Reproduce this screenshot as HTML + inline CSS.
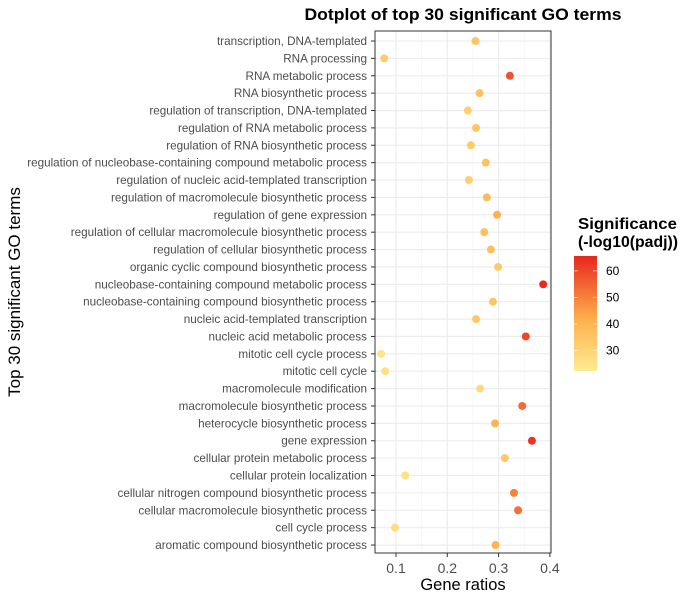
<!DOCTYPE html>
<html><head><meta charset="utf-8"><style>
body{margin:0;background:#fff;}
svg text{font-family:"Liberation Sans",Arial,sans-serif;}
</style></head><body>
<svg id="chart" width="700" height="600" xmlns="http://www.w3.org/2000/svg">
<defs><linearGradient id="cg" x1="0" y1="1" x2="0" y2="0">
<stop offset="0" stop-color="#FFEB91"/><stop offset="0.45" stop-color="#FDB04C"/><stop offset="1" stop-color="#E8271E"/></linearGradient></defs>
<text x="463" y="20" text-anchor="middle" font-size="17" font-weight="bold" fill="#000" textLength="317" lengthAdjust="spacingAndGlyphs">Dotplot of top 30 significant GO terms</text>
<rect x="375" y="31" width="176" height="522" fill="#fff"/>
<g id="grid"></g><g id="dots"></g>
<rect x="375" y="31" width="176" height="522" fill="none" stroke="#333" stroke-width="1"/>
<g id="axes"></g>
<text x="463" y="590" text-anchor="middle" font-size="16.5" fill="#000">Gene ratios</text>
<text transform="translate(20,292) rotate(-90)" text-anchor="middle" font-size="17" fill="#000">Top 30 significant GO terms</text>
<text x="578" y="229" font-size="16" font-weight="bold" fill="#000" textLength="99" lengthAdjust="spacingAndGlyphs">Significance</text>
<text x="578" y="247" font-size="16" font-weight="bold" fill="#000" textLength="100" lengthAdjust="spacingAndGlyphs">(-log10(padj))</text>
<rect x="574" y="256" width="23" height="115" fill="url(#cg)"/>
<g id="legend"></g>
</svg>
<script>
const terms=["transcription, DNA-templated","RNA processing","RNA metabolic process","RNA biosynthetic process","regulation of transcription, DNA-templated","regulation of RNA metabolic process","regulation of RNA biosynthetic process","regulation of nucleobase-containing compound metabolic process","regulation of nucleic acid-templated transcription","regulation of macromolecule biosynthetic process","regulation of gene expression","regulation of cellular macromolecule biosynthetic process","regulation of cellular biosynthetic process","organic cyclic compound biosynthetic process","nucleobase-containing compound metabolic process","nucleobase-containing compound biosynthetic process","nucleic acid-templated transcription","nucleic acid metabolic process","mitotic cell cycle process","mitotic cell cycle","macromolecule modification","macromolecule biosynthetic process","heterocycle biosynthetic process","gene expression","cellular protein metabolic process","cellular protein localization","cellular nitrogen compound biosynthetic process","cellular macromolecule biosynthetic process","cell cycle process","aromatic compound biosynthetic process"];
const ratios=[0.255,0.077,0.322,0.263,0.240,0.256,0.246,0.275,0.242,0.277,0.297,0.272,0.285,0.299,0.387,0.289,0.256,0.353,0.071,0.079,0.264,0.346,0.293,0.365,0.312,0.118,0.330,0.338,0.098,0.294];
const signif=[35,33,58,36,32,35,33,36,32,38,42,37,37,34,65,35,34,60,25,26,28,54,40,63,34,26,50,53,27,40];
const xTicks=[0.1,0.2,0.3,0.4];
const xMinor=[0.15,0.25,0.35];
const legendTicks=[30,40,50,60];
const NS="http://www.w3.org/2000/svg";
const X=v=>396+(v-0.1)*513;
const Y=i=>41+i*17.38;
const C=s=>371-(s-22.3)*(115/43.3);
function lerp(a,b,t){return a.map((v,i)=>Math.round(v+(b[i]-v)*t));}
function col(s){let t=Math.max(0,Math.min(1,(s-22.3)/43.3));const a=[255,235,145],m=[253,176,76],b=[232,39,30];
const c=t<0.45?lerp(a,m,t/0.45):lerp(m,b,(t-0.45)/0.55);return `rgb(${c})`;}
function mk(tag,attrs,parent){const e=document.createElementNS(NS,tag);for(const k in attrs)e.setAttribute(k,attrs[k]);parent.appendChild(e);return e;}
const g=document.getElementById('grid'),d=document.getElementById('dots'),ax=document.getElementById('axes'),lg=document.getElementById('legend');
xMinor.forEach(v=>{const l=mk('line',{x1:X(v),x2:X(v),y1:31,y2:553,stroke:'#f2f2f2','stroke-width':0.6},g);

});
xTicks.forEach(v=>{const l=mk('line',{x1:X(v),x2:X(v),y1:31,y2:553,stroke:'#ebebeb','stroke-width':1.1},g);


const t=mk('line',{x1:X(v),x2:X(v),y1:553,y2:557,stroke:'#333'},ax);


const tx=mk('text',{x:X(v),y:573,'text-anchor':'middle','font-size':14,fill:'#4d4d4d'},ax);tx.textContent=v.toFixed(1);

});
terms.forEach((n,i)=>{const l=mk('line',{x1:375,x2:551,y1:Y(i),y2:Y(i),stroke:'#ebebeb','stroke-width':1.1},g);


const t=mk('line',{x1:371,x2:375,y1:Y(i),y2:Y(i),stroke:'#333'},ax);


const tx=mk('text',{x:367,y:Y(i)+4,'text-anchor':'end','font-size':11.7,fill:'#4d4d4d'},ax);tx.textContent=n;


const c=mk('circle',{cx:X(ratios[i]),cy:Y(i),r:4,fill:col(signif[i])},d);

});
legendTicks.forEach(v=>{const l1=mk('line',{x1:574,x2:578,y1:C(v),y2:C(v),stroke:'#fff','stroke-width':0.8,opacity:0.7},lg);


const l2=mk('line',{x1:593,x2:597,y1:C(v),y2:C(v),stroke:'#fff','stroke-width':0.8,opacity:0.7},lg);


const t=mk('text',{x:606,y:C(v)+4,'font-size':12,fill:'#000'},lg);t.textContent=v;

});
</script>
</body></html>
